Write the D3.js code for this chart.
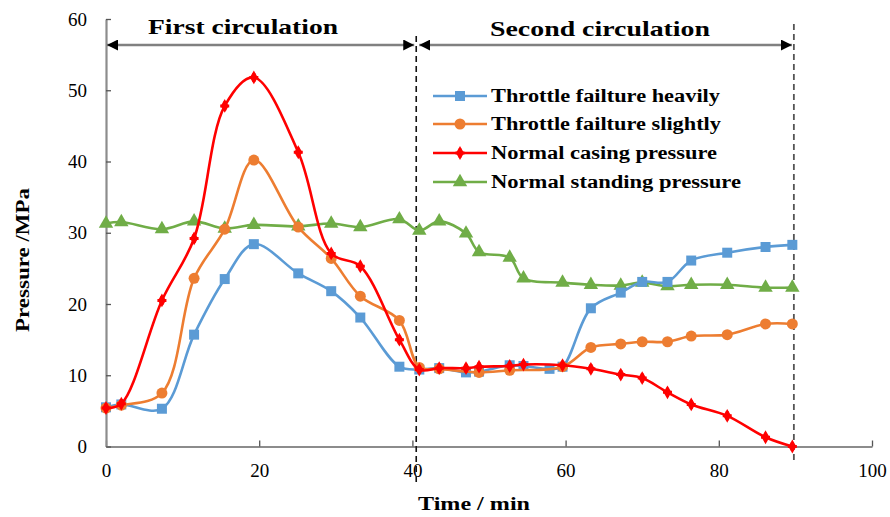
<!DOCTYPE html>
<html><head><meta charset="utf-8">
<script src="https://cdn.jsdelivr.net/npm/d3@7/dist/d3.min.js"></script>
<style>body{margin:0;background:#fff;} svg{display:block;} text{font-family:"Liberation Serif","Times New Roman",serif;}</style>
</head><body>
<svg id="c" width="890" height="517"></svg>
<script>
// ---- data ----
const xTicks = [0, 20, 40, 60, 80, 100];
const yTicks = [0, 10, 20, 30, 40, 50, 60];
const seriesNames = ["Throttle failture heavily", "Throttle failture slightly", "Normal casing pressure", "Normal standing pressure"];
const phaseLabels = ["First circulation", "Second circulation"];
const phaseBounds = [0, 40.5, 89.8];

const heavyX = [0, 2, 7.3, 11.5, 15.5, 19.3, 25.1, 29.4, 33.2, 38.3, 40.9, 43.5, 47.0, 48.7, 52.7, 54.5, 57.9, 59.6, 63.3, 67.2, 70.0, 73.3, 76.4, 81.1, 86.1, 89.6];
const heavyY = [5.5, 5.9, 5.3, 15.7, 23.5, 28.4, 24.3, 21.8, 18.1, 11.2, 10.8, 11.0, 10.4, 10.5, 11.4, 11.3, 10.9, 11.2, 19.4, 21.6, 23.1, 23.1, 26.1, 27.2, 28.0, 28.3];

const slightX = [0, 2, 7.3, 11.5, 15.5, 19.3, 25.1, 29.4, 33.2, 38.3, 40.9, 43.5, 48.7, 52.7, 59.6, 63.3, 67.2, 70.0, 73.3, 76.4, 81.1, 86.1, 89.6];
const slightY = [5.4, 5.8, 7.5, 23.6, 30.5, 40.2, 30.8, 26.4, 21.1, 17.7, 11.1, 10.9, 10.4, 10.7, 11.2, 13.9, 14.4, 14.7, 14.7, 15.5, 15.7, 17.2, 17.2];

const casingX = [0, 2, 7.3, 11.5, 15.5, 19.3, 25.1, 29.4, 33.2, 38.3, 40.9, 43.5, 47.0, 48.7, 52.7, 54.5, 59.6, 63.3, 67.2, 70.0, 73.3, 76.4, 81.1, 86.1, 89.6];
const casingY = [5.4, 6.0, 20.5, 29.2, 47.8, 51.8, 41.3, 27.1, 25.3, 15.0, 10.8, 11.0, 11.0, 11.2, 11.3, 11.5, 11.4, 10.9, 10.1, 9.6, 7.6, 5.9, 4.3, 1.3, 0];

const standX = [0, 2, 7.3, 11.5, 15.5, 19.3, 25.1, 29.4, 33.2, 38.3, 40.9, 43.5, 47.0, 48.7, 52.7, 54.5, 59.6, 63.3, 67.2, 70.0, 73.3, 76.4, 81.1, 86.1, 89.6];
const standY = [31.3, 31.5, 30.5, 31.6, 30.6, 31.1, 30.9, 31.3, 30.8, 31.9, 30.3, 31.6, 29.9, 27.3, 26.5, 23.6, 23.0, 22.7, 22.6, 23.0, 22.5, 22.7, 22.7, 22.3, 22.3];

// ---- chart ----
const svg = d3.select("#c");
const x = d3.scaleLinear().domain([0, 100]).range([106, 872]);
const y = d3.scaleLinear().domain([0, 60]).range([446.5, 19]);
const axisCol = "#8c8c8c";

// axes
const gx = svg.append("g").attr("transform", `translate(0,${y(0)})`)
  .call(d3.axisBottom(x).tickValues(xTicks).tickSizeInner(-6).tickSizeOuter(0).tickPadding(14));
const gy = svg.append("g").attr("transform", `translate(${x(0)},0)`)
  .call(d3.axisLeft(y).tickValues(yTicks).tickSizeInner(-5).tickSizeOuter(0).tickPadding(19));
[gx, gy].forEach(g => {
  g.select(".domain").attr("stroke", axisCol).attr("stroke-width", 2.2);
  g.selectAll(".tick line").attr("stroke", "#555").attr("stroke-width", 1.3);
  g.selectAll(".tick text").attr("font-size", 19).attr("fill", "#000")
   .style("font-family", '"Liberation Serif",serif');
});
gx.selectAll(".tick text").attr("dy", "0.85em");

// dashed phase lines
svg.append("line").attr("x1", x(phaseBounds[1])).attr("x2", x(phaseBounds[1]))
  .attr("y1", 36).attr("y2", 482).attr("stroke", "#111").attr("stroke-width", 1.6).attr("stroke-dasharray", "6,4");
svg.append("line").attr("x1", x(phaseBounds[2])).attr("x2", x(phaseBounds[2]))
  .attr("y1", 24).attr("y2", 462).attr("stroke", "#555").attr("stroke-width", 1.8).attr("stroke-dasharray", "6,4");

// arrows
const defs = svg.append("defs");
defs.append("marker").attr("id", "ah").attr("viewBox", "0 0 10 10").attr("refX", 10).attr("refY", 5)
  .attr("markerWidth", 11).attr("markerHeight", 11).attr("markerUnits", "userSpaceOnUse").attr("orient", "auto-start-reverse")
  .append("path").attr("d", "M0,0 L10,5 L0,10 Z").attr("fill", "#000");
const arrowY = 45;
[[x(phaseBounds[0]) + 1, x(phaseBounds[1]) - 2], [x(phaseBounds[1]) + 3, x(phaseBounds[2]) - 2]].forEach(([a, b]) => {
  svg.append("line").attr("x1", a).attr("x2", b).attr("y1", arrowY).attr("y2", arrowY)
    .attr("stroke", "#808080").attr("stroke-width", 2.6)
    .attr("marker-start", "url(#ah)").attr("marker-end", "url(#ah)");
});
svg.append("text").attr("x", 148).attr("y", 34).attr("font-size", 22).attr("font-weight", "bold")
  .attr("textLength", 190).attr("lengthAdjust", "spacingAndGlyphs").text(phaseLabels[0]);
svg.append("text").attr("x", 490).attr("y", 36).attr("font-size", 22).attr("font-weight", "bold")
  .attr("textLength", 220).attr("lengthAdjust", "spacingAndGlyphs").text(phaseLabels[1]);

// series
const colors = ["#5B9BD5", "#ED7D31", "#FF0000", "#70AD47"];
const shapes = [d3.symbolSquare, d3.symbolCircle, d3.symbolDiamond, d3.symbolTriangle];
const sizes = [100, 95, 55, 90];
const data = [[heavyX, heavyY], [slightX, slightY], [casingX, casingY], [standX, standY]];
const line = d3.line().x(d => x(d[0])).y(d => y(d[1])).curve(d3.curveCatmullRom.alpha(0.5));

const order = [3, 0, 1, 2];
order.forEach(i => {
  const pts = data[i][0].map((v, k) => [v, data[i][1][k]]);
  svg.append("path").attr("d", line(pts)).attr("fill", "none").attr("stroke", colors[i]).attr("stroke-width", 2.6);
  svg.append("g").selectAll("path").data(pts).join("path")
    .attr("transform", d => `translate(${x(d[0])},${y(d[1])})`)
    .attr("d", d3.symbol().type(shapes[i]).size(sizes[i])).attr("fill", colors[i]);
  if (i === 2) {
    svg.append("g").selectAll("path").data(pts).join("path")
      .attr("transform", d => `translate(${x(d[0])},${y(d[1])})`)
      .attr("d", d3.symbol().type(d3.symbolCross).size(45)).attr("fill", colors[i]);
  }
});

// legend
const lgY = [96, 124, 153, 182];
const lgW = [229, 230, 226, 250];
seriesNames.forEach((name, i) => {
  const g = svg.append("g");
  g.append("line").attr("x1", 433).attr("x2", 487).attr("y1", lgY[i]).attr("y2", lgY[i]).attr("stroke", colors[i]).attr("stroke-width", 2.6);
  g.append("path").attr("transform", `translate(460,${lgY[i]})`).attr("d", d3.symbol().type(shapes[i]).size(sizes[i])).attr("fill", colors[i]);
  if (i === 2) g.append("path").attr("transform", `translate(460,${lgY[i]})`).attr("d", d3.symbol().type(d3.symbolCross).size(45)).attr("fill", colors[i]);
  g.append("text").attr("x", 491).attr("y", lgY[i] + 6).attr("font-size", 18.5).attr("font-weight", "bold")
    .attr("textLength", lgW[i]).attr("lengthAdjust", "spacingAndGlyphs").text(name);
});

// axis titles
svg.append("text").attr("x", 418).attr("y", 510).attr("font-size", 19).attr("font-weight", "bold")
  .attr("textLength", 112).attr("lengthAdjust", "spacingAndGlyphs").text("Time / min");
svg.append("text").attr("transform", "translate(29,332) rotate(-90)").attr("font-size", 19).attr("font-weight", "bold")
  .attr("textLength", 144).attr("lengthAdjust", "spacingAndGlyphs").text("Pressure /MPa");
</script>
</body></html>
